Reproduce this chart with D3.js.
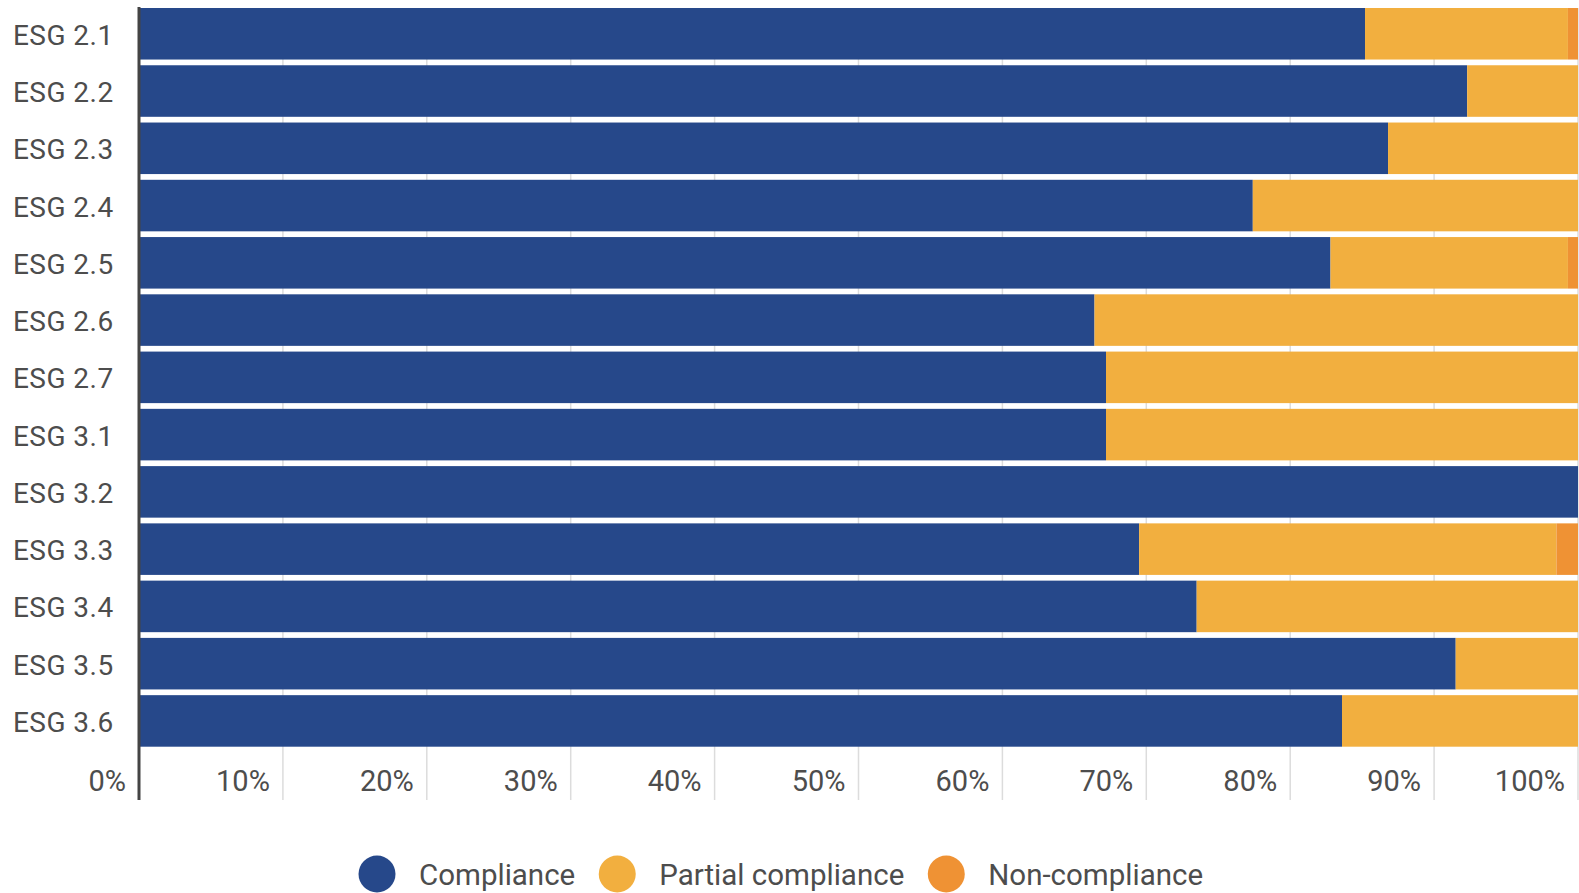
<!DOCTYPE html>
<html>
<head>
<meta charset="utf-8">
<script src="https://cdn.jsdelivr.net/npm/d3@7"></script>
<style>
  html, body { margin: 0; padding: 0; background: #fff; }
  svg { display: block; font-family: Roboto, "Noto Sans", sans-serif; }
</style>
</head>
<body>
<svg id="chart" width="1579" height="893"></svg>
<script>
const categories = ["ESG 2.1","ESG 2.2","ESG 2.3","ESG 2.4","ESG 2.5","ESG 2.6","ESG 2.7","ESG 3.1","ESG 3.2","ESG 3.3","ESG 3.4","ESG 3.5","ESG 3.6"];
const compliance = [85.2, 92.3, 86.8, 77.4, 82.8, 66.4, 67.2, 67.2, 100, 69.5, 73.5, 91.5, 83.6];
const partialCompliance = [14.1, 7.7, 13.2, 22.6, 16.5, 33.6, 32.8, 32.8, 0, 29.0, 26.5, 8.5, 16.4];
const nonCompliance = [0.7, 0, 0, 0, 0.7, 0, 0, 0, 0, 1.5, 0, 0, 0];
const seriesNames = ["Compliance", "Partial compliance", "Non-compliance"];
const seriesColors = ["#26488a", "#f2af3f", "#ef9234"];
const xTicks = [0, 10, 20, 30, 40, 50, 60, 70, 80, 90, 100];

const svg = d3.select("#chart");
const x = d3.scaleLinear().domain([0, 100]).range([139, 1578]);
const y = d3.scaleBand().domain(categories).range([8, 746.7]).paddingInner(0.1).paddingOuter(0);
const color = d3.scaleOrdinal().domain(seriesNames).range(seriesColors);

const rows = categories.map((c, i) => ({
  cat: c,
  "Compliance": compliance[i],
  "Partial compliance": partialCompliance[i],
  "Non-compliance": nonCompliance[i]
}));
const stacked = d3.stack().keys(seriesNames)(rows);

// gridlines
svg.append("g").selectAll("line")
  .data(xTicks.filter(t => t > 0))
  .join("line")
  .attr("x1", d => x(d)).attr("x2", d => x(d))
  .attr("y1", 8).attr("y2", 800)
  .attr("stroke", "#dcdcdc").attr("stroke-width", 1.5);

// bars
svg.append("g").selectAll("g")
  .data(stacked)
  .join("g")
  .attr("fill", d => color(d.key))
  .selectAll("rect")
  .data(d => d)
  .join("rect")
  .attr("x", d => x(d[0]))
  .attr("width", d => Math.max(0, x(d[1]) - x(d[0])))
  .attr("y", d => y(d.data.cat))
  .attr("height", y.bandwidth());

// axis line
svg.append("line")
  .attr("x1", x(0)).attr("x2", x(0))
  .attr("y1", 7).attr("y2", 800)
  .attr("stroke", "#444").attr("stroke-width", 3);

// category labels
svg.append("g").selectAll("text")
  .data(categories)
  .join("text")
  .attr("x", 13)
  .attr("y", d => y(d) + y.bandwidth() / 2 + 11)
  .attr("fill", "#4d4d4d")
  .attr("font-size", 28)
  .attr("letter-spacing", 0.45)
  .text(d => d);

// x tick labels
svg.append("g").selectAll("text")
  .data(xTicks)
  .join("text")
  .attr("x", d => x(d) - 13)
  .attr("y", 791)
  .attr("text-anchor", "end")
  .attr("fill", "#4d4d4d")
  .attr("font-size", 29)
  .text(d => d + "%");

// legend
const legend = svg.append("g");
let lx = 377;
seriesNames.forEach((name, i) => {
  legend.append("circle")
    .attr("cx", lx).attr("cy", 874).attr("r", 18.5)
    .attr("fill", seriesColors[i]);
  const t = legend.append("text")
    .attr("x", lx + 42).attr("y", 884.5)
    .attr("fill", "#4d4d4d")
    .attr("font-size", 29.5)
    .text(name);
  const w = t.node().getComputedTextLength();
  lx = lx + 42 + w + 42;
});
</script>
</body>
</html>
